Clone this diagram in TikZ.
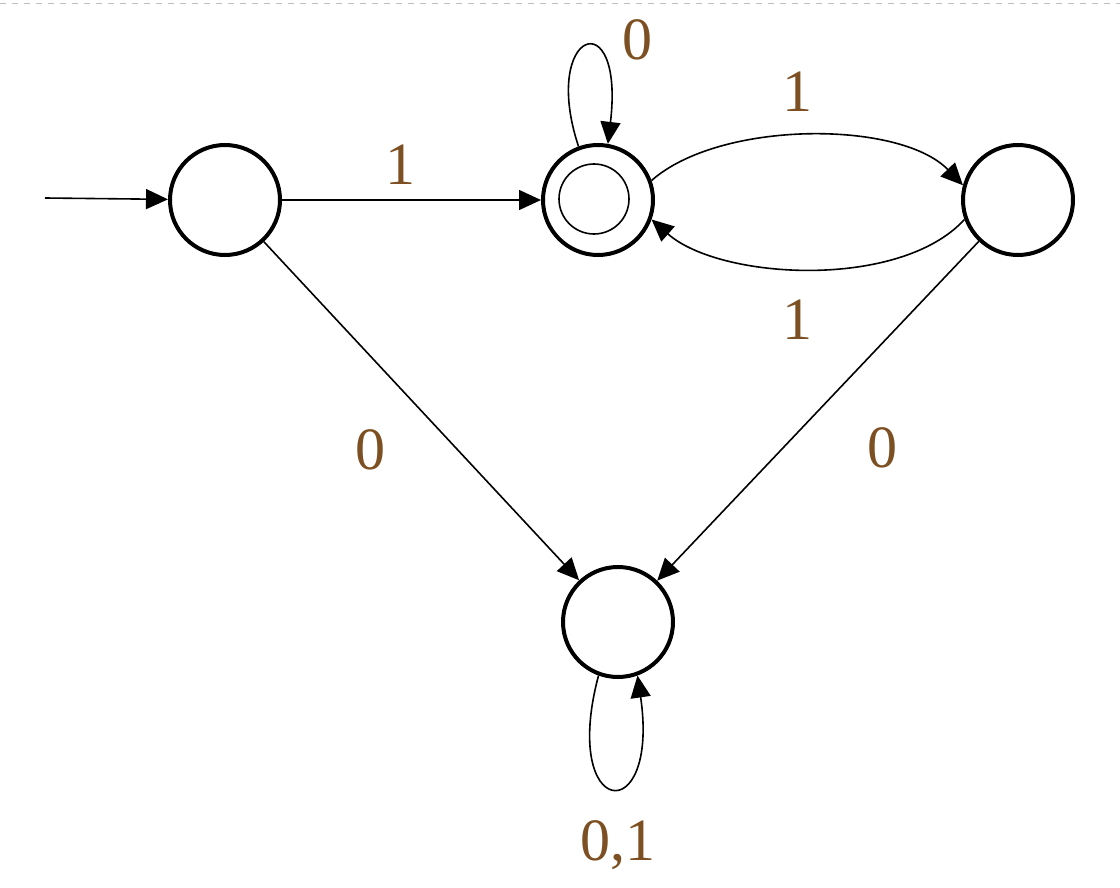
\documentclass[tikz,border=0pt]{standalone}
\usepackage{fontspec}
\setmainfont{Liberation Serif}
\usetikzlibrary{arrows.meta}
\begin{document}
\begin{tikzpicture}[x=0.5pt,y=-0.5pt,
  st/.style={circle,draw,line width=2pt,minimum size=55pt,inner sep=0pt},
  ed/.style={-{Triangle[length=11pt,width=10pt]},line width=0.8pt},
  lb/.style={text=lblc,font=\fontsize{30}{32}\selectfont}]
\definecolor{lblc}{RGB}{125,80,35}
\useasboundingbox (0,0) rectangle (1120,888);
\draw[gray!50,dashed] (0,3) -- (1120,3);
\node[st] (A) at (225,200) {};
\node[st] (B) at (598,200) {};
\node[circle,draw,line width=0.8pt,minimum size=35pt] (Bi) at (594,199) {};
\node[st] (C) at (1018,200) {};
\node[st] (D) at (618,622) {};
\coordinate (S) at (45,198);
\draw[ed] (S) -- (A);
\draw[ed] (A) -- (B);
\node[lb] (l6) at (400,165) {1};
\draw[ed] (B.110) .. controls (540,30) and (625,0) .. (B.80);
\node[lb] (l0) at (637,40) {0};
\draw[ed] (B.20) .. controls (720,120) and (900,120) .. (C.165);
\node[lb] (l1) at (797,92) {1};
\draw[ed] (C.200) .. controls (900,290) and (720,280) .. (B.340);
\node[lb] (l2) at (797,320) {1};
\draw[ed] (A) -- (D);
\node[lb] (l3) at (370,450) {0};
\draw[ed] (C) -- (D);
\node[lb] (l4) at (882,448) {0};
\draw[ed] (D.250) .. controls (560,820) and (660,830) .. (D.290);
\node[lb] (l5) at (618,845) {0,1};
\end{tikzpicture}
\end{document}
